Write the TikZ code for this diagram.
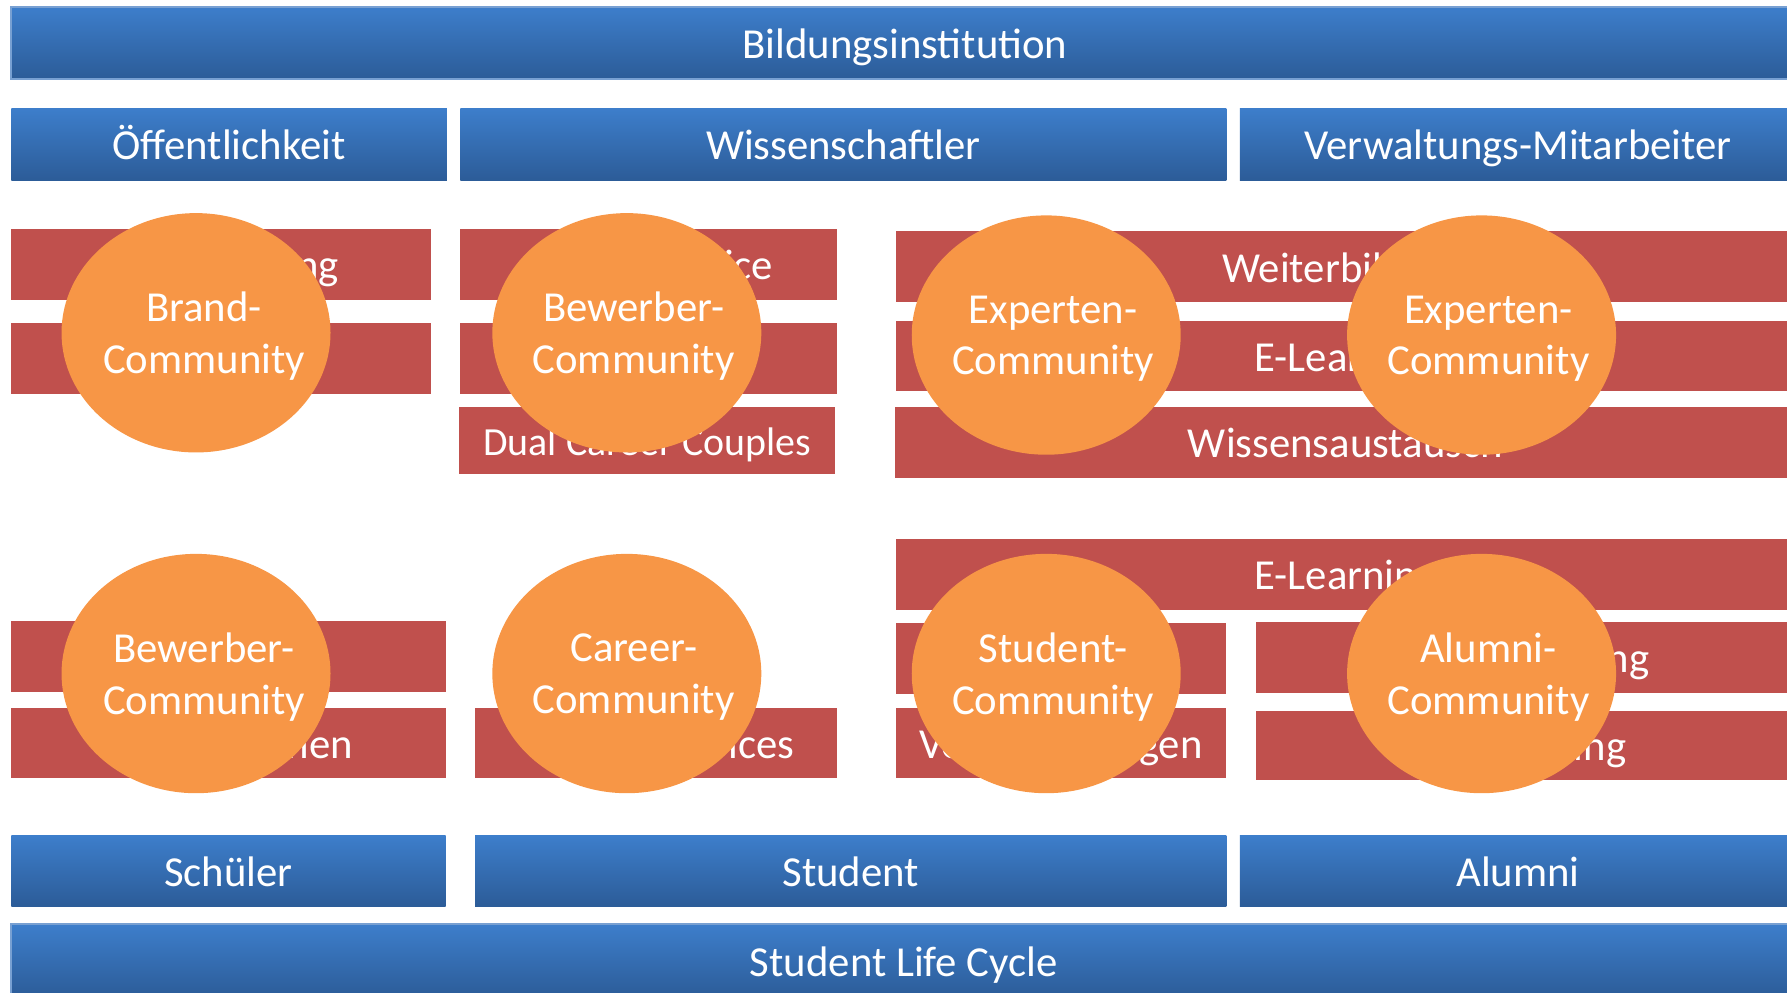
\documentclass[tikz,border=0pt]{standalone}
\usepackage{fontspec}
\setmainfont{Carlito}
\usetikzlibrary{shapes.geometric,fit}
\definecolor{cBlueTop}{RGB}{61,126,203}
\definecolor{cBlueBot}{RGB}{44,92,152}
\definecolor{cBlueLine}{RGB}{120,160,210}
\definecolor{cRed}{RGB}{192,80,77}
\definecolor{cOrange}{RGB}{247,150,70}
\begin{document}
\begin{tikzpicture}[x=0.5pt,y=-0.5pt,
  txt/.style={text=white,font=\fontsize{18.75}{22.5}\selectfont,inner sep=0pt},
  lbl/.style={txt,text height=16pt,text depth=2.5pt},
  bluebox/.style={inner sep=0pt,top color=cBlueTop,bottom color=cBlueBot},
  bluebar/.style={bluebox,draw=cBlueLine,line width=0.8pt},
  redbar/.style={inner sep=0pt,fill=cRed},
  comm/.style={ellipse,fill=cOrange,minimum width=118pt,minimum height=105pt,inner sep=0pt},
  commtext/.style={txt,align=center}]
\clip (0,0) rectangle (1568,871);
% blue bars
\node[bluebar, fit={(10,6)(1578,69)}] (bild) {};
\node[bluebox, fit={(10,95)(392,158)}] (oeff) {};
\node[bluebox, fit={(404,95)(1076,158)}] (wiss) {};
\node[bluebox, fit={(1088,95)(1576,158)}] (verw) {};
\node[bluebox, fit={(10,733)(391,795)}] (schueler) {};
\node[bluebox, fit={(417,733)(1076,795)}] (student) {};
\node[bluebox, fit={(1088,733)(1576,795)}] (alumni) {};
\node[bluebar, fit={(10,811)(1576,875)}] (slc) {};
\node[lbl] at (bild.center) {Bildungsinstitution};
\node[lbl] at (oeff.center) {Öffentlichkeit};
\node[lbl] at (wiss.center) {Wissenschaftler};
\node[lbl] at (verw.center) {Verwaltungs-Mitarbeiter};
\node[lbl] at (schueler.center) {Schüler};
\node[lbl] at (student.center) {Student};
\node[lbl] at (alumni.center) {Alumni};
\node[lbl] at (slc.center) {Student Life Cycle};
% red bars (top)
\node[redbar, fit={(10,201)(378,263)}] (r1) {};
\node[redbar, fit={(10,283)(378,346)}] (r2) {};
\node[redbar, fit={(404,201)(734,263)}] (r3) {};
\node[redbar, fit={(404,283)(734,346)}] (r4) {};
\node[redbar, fit={(403,357)(733,416)}] (r5) {};
\node[redbar, fit={(786,203)(1576,265)}] (r6) {};
\node[redbar, fit={(786,282)(1576,343)}] (r7) {};
\node[redbar, fit={(785,357)(1576,419)}] (r8) {};
% red bars (bottom)
\node[redbar, fit={(786,473)(1576,535)}] (r9) {};
\node[redbar, fit={(10,545)(391,607)}] (r10) {};
\node[redbar, fit={(10,621)(391,683)}] (r11) {};
\node[redbar, fit={(417,621)(734,683)}] (r12) {};
\node[redbar, fit={(786,547)(1076,609)}] (r13) {};
\node[redbar, fit={(786,621)(1076,683)}] (r14) {};
\node[redbar, fit={(1102,546)(1576,608)}] (r15) {};
\node[redbar, fit={(1102,624)(1576,684)}] (r16) {};
\node[lbl] at (r1.center) {Imagebildung};
\node[lbl] at (r3.center) {Career Service};
\node[lbl,font=\fontsize{17.5}{21}\selectfont] at (r5.center) {Dual Career Couples};
\node[lbl] at (r6.center) {Weiterbildung};
\node[lbl] at (r7.center) {E-Learning};
\node[lbl] at (r8.center) {Wissensaustausch};
\node[lbl] at (r9.center) {E-Learning};
\node[lbl] at (r11.center) {Informationen};
\node[lbl] at ([xshift=2.5pt]r12.center) {Career Services};
\node[lbl] at (r14.center) {Veranstaltungen};
\node[lbl] at (r15.center) {Weiterbildung};
\node[lbl] at (r16.center) {Fundraising};
% community ellipses
\node[comm] (e1) at (172,292) {};
\node[comm] (e2) at (550,292) {};
\node[comm] (e3) at (918,294) {};
\node[comm] (e4) at (1300,294) {};
\node[comm] (e5) at (172,591) {};
\node[comm] (e6) at (550,591) {};
\node[comm] (e7) at (918,591) {};
\node[comm] (e8) at (1300,591) {};
\node[commtext] (t1) at ([xshift=3.5pt,yshift=-1.5pt]e1.center) {Brand-\\Community};
\node[commtext] (t2) at ([xshift=3pt,yshift=-1.5pt]e2.center) {Bewerber-\\Community};
\node[commtext] (t3) at ([xshift=3pt,yshift=-1.5pt]e3.center) {Experten-\\Community};
\node[commtext] (t4) at ([xshift=3pt,yshift=-1.5pt]e4.center) {Experten-\\Community};
\node[commtext] (t5) at ([xshift=3.5pt,yshift=-1.5pt]e5.center) {Bewerber-\\Community};
\node[commtext] (t6) at ([xshift=3pt,yshift=-1.5pt]e6.center) {Career-\\Community};
\node[commtext] (t7) at ([xshift=3pt,yshift=-1.5pt]e7.center) {Student-\\Community};
\node[commtext] (t8) at ([xshift=3pt,yshift=-1.5pt]e8.center) {Alumni-\\Community};
\end{tikzpicture}
\end{document}
